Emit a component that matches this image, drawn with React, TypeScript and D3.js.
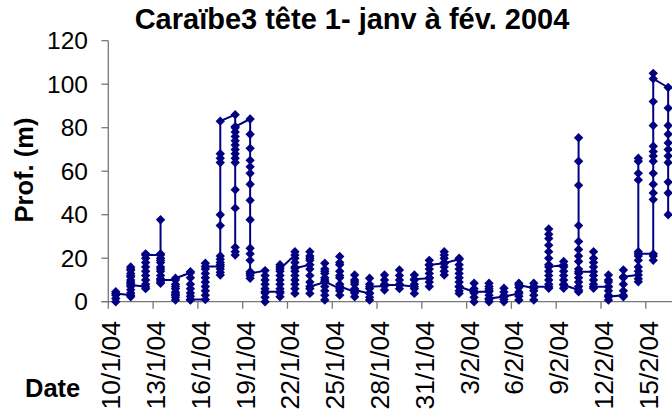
import * as d3 from "d3";

const width = 672;
const height = 416;

const title = "Caraïbe3 tête 1- janv à fév. 2004";
const yLabel = "Prof. (m)";
const xLabel = "Date";
const startDay = "2004-01-10";
const endDay = "2004-02-18";
const yTicks = [0, 20, 40, 60, 80, 100, 120];

// depth readings per day, in recording order (first and last link the days)
const depths = [
  [0, 1.5, 3, 4.6, 3.8],
  [3, 2.3, 4, 5.5, 7, 8.5, 10, 11.5, 13, 14.5, 16, 15, 12, 9, 7.7],
  [6.9, 6, 8, 10, 12, 14, 16, 18, 20, 22, 21.5],
  [21.5, 20, 18, 16, 14, 12, 10.5, 9, 8.5, 37.7, 22, 19, 15, 10],
  [10, 8, 6, 4.5, 3, 2, 0.8, 3.5, 7, 10.8],
  [13.3, 13.8, 11, 8, 6, 4, 2.5, 0.8, 1],
  [1, 3, 5, 7, 9, 11, 13, 15, 17.7, 16.2],
  [16.2, 12.3, 13.5, 15, 17, 18, 19.5, 21, 35, 40, 64, 66, 68, 83],
  [86, 80, 78, 76, 74, 72, 70, 68, 66, 64, 51.5, 43, 25, 23, 21.5, 80.5],
  [84, 77, 70.5, 65, 62, 59, 54, 46.6, 37.7, 24.6, 22, 19, 13.8, 12, 10.8, 13],
  [14.3, 12, 10, 8, 6, 4, 2, 0, 4.6],
  [4.6, 2.3, 4, 6, 8, 10, 12, 14, 16, 17, 15],
  [21.5, 23, 20, 18, 16, 14, 12, 10, 8, 6, 3.8, 15.4],
  [17, 19, 21, 23, 20, 15, 12, 9, 6, 3.8, 7],
  [9, 11, 13, 15, 17.7, 14, 10, 7, 5, 3, 0.8, 9.2],
  [6, 3, 5, 8, 11, 14, 17, 20.8, 18, 12, 7],
  [4.6, 2.3, 4, 6, 8, 10, 12.3, 9, 5.4],
  [3.8, 0.8, 2, 4, 6, 8, 10.8, 6.9],
  [7.2, 5.4, 8, 10, 12.3, 7.7],
  [7.7, 6, 8, 10, 12, 14.6, 7.7],
  [6.9, 3.8, 6, 8, 10, 12.3, 10.3],
  [10.8, 7, 9, 11, 13, 15, 17, 19, 16.9],
  [17.7, 12.3, 14, 16, 18, 20, 21.5, 23, 17.7],
  [19.5, 20, 17, 15, 13, 11, 9, 7, 5, 3.8, 6.9],
  [4.6, 0, 2, 4, 6, 8.5, 4.6],
  [4.6, 6, 8.5, 7, 5, 3, 1, 0, 1.5],
  [2.3, 0, 1, 3, 4.5, 6.2, 2.3],
  [3.8, 0.8, 2.5, 4.5, 6.5, 8.5, 7.7],
  [6.2, 8.5, 7, 5, 3, 0.8, 6.9],
  [6.9, 6.2, 8, 10, 12, 14, 17, 20, 23, 26, 29, 31, 33.4, 16],
  [16.9, 18.5, 16, 14, 12, 10, 8, 6.2, 7.7],
  [5.4, 4.6, 7, 9, 11, 13, 15, 18.5, 21, 24, 27.7, 35, 53.5, 64.6, 75.4, 13.8],
  [13.8, 16, 18, 20, 23, 12, 10, 8, 6.2, 6.9],
  [6.9, 9, 12.3, 10, 7, 5, 3, 0.8, 2.3],
  [3, 2.3, 5, 8, 11, 14.6, 11.5],
  [12.3, 9.2, 10.5, 14, 16, 19, 21, 23, 56, 59, 64.6, 66, 22],
  [22, 19, 21, 47, 50, 54, 59, 64.6, 67, 69, 71.5, 81, 92, 105, 102.5],
  [98.5, 89, 81, 77, 73, 70, 67, 64, 55, 50, 40],
];

const navy = "#000080";
const font = "'Liberation Sans', Arial, sans-serif";

type Pt = { date: Date; v: number };

export default function App() {
  const start = new Date(startDay + "T00:00:00Z");
  const end = new Date(endDay + "T00:00:00Z");
  const x = d3.scaleUtc([start, end], [108.3, 108.3 + 39 * 14.93]);
  const y = d3.scaleLinear([0, 120], [301.7, 40.7]);

  const points: Pt[] = [];
  depths.forEach((day, i) => {
    const d = d3.utcHour.offset(d3.utcDay.offset(start, i), 12);
    day.forEach((v) => points.push({ date: d, v }));
  });

  const line = d3
    .line<Pt>()
    .x((d) => x(d.date))
    .y((d) => y(d.v));

  const tickDates = d3.utcDay.range(start, end, 3);
  const fmt = d3.utcFormat("%-d/%-m/%y");
  // square turned 45deg = Excel diamond marker
  const diamond = d3.symbol(d3.symbolSquare, 44)();

  return (
    <div style={{ position: "absolute", left: 0, top: 0 }}>
      <svg width={width} height={height} style={{ display: "block", background: "#fff" }} fontFamily={font}>
        <text x={352} y={29} textAnchor="middle" fontSize={29} fontWeight="bold">
          {title}
        </text>
        <text
          transform={`translate(33,170) rotate(-90)`}
          textAnchor="middle"
          fontSize={25.5}
          fontWeight="bold"
        >
          {yLabel}
        </text>
        <text x={25} y={397} fontSize={25.5} fontWeight="bold">
          {xLabel}
        </text>

        {/* y axis */}
        <line x1={108.3} x2={108.3} y1={y(120)} y2={y(0)} stroke="#777" strokeWidth={1.3} />
        {yTicks.map((t) => (
          <g key={t}>
            <line x1={101.5} x2={108.3} y1={y(t)} y2={y(t)} stroke="#777" strokeWidth={1.3} />
            <text x={88} y={y(t)} dy="0.35em" textAnchor="end" fontSize={24.5}>
              {t}
            </text>
          </g>
        ))}

        {/* x axis */}
        <line x1={101.5} x2={width} y1={y(0)} y2={y(0)} stroke="#777" strokeWidth={1.3} />
        {tickDates.map((t) => (
          <g key={t.getTime()}>
            <line x1={x(t)} x2={x(t)} y1={y(0)} y2={y(0) + 7} stroke="#777" strokeWidth={1.3} />
            <text
              transform={`translate(${x(t) + 12},321) rotate(-90)`}
              textAnchor="end"
              fontSize={26.5}
            >
              {fmt(t)}
            </text>
          </g>
        ))}

        <path d={line(points) ?? ""} fill="none" stroke={navy} strokeWidth={2} />
        {points.map((p, i) => (
          <path
            key={i}
            d={diamond ?? ""}
            transform={`translate(${x(p.date)},${y(p.v)}) rotate(45)`}
            fill={navy}
          />
        ))}
      </svg>
    </div>
  );
}
